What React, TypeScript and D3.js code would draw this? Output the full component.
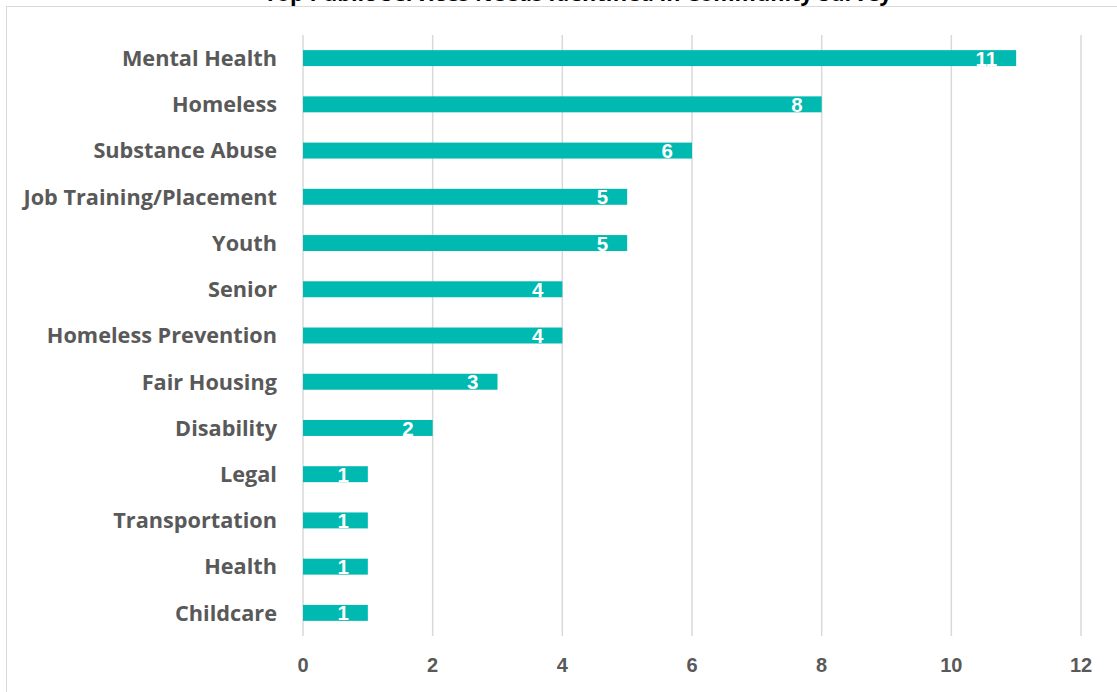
import React from "react";
import * as d3 from "d3";

const categories = [
  "Mental Health",
  "Homeless",
  "Substance Abuse",
  "Job Training/Placement",
  "Youth",
  "Senior",
  "Homeless Prevention",
  "Fair Housing",
  "Disability",
  "Legal",
  "Transportation",
  "Health",
  "Childcare",
];
const values = [11, 8, 6, 5, 5, 4, 4, 3, 2, 1, 1, 1, 1];
const xTicks = [0, 2, 4, 6, 8, 10, 12];
const title = "Top Public Services Needs Identified in Community Survey";

const W = 1117;
const H = 692;
const FONT = "'Liberation Sans', Arial, sans-serif";
const LABEL_FONT = "'Open Sans', 'Noto Sans', sans-serif";

export default function App() {
  const x = d3.scaleLinear().domain([0, 12]).range([303, 1081]);
  const y = d3.scaleBand<string>().domain(categories).range([35, 636]).paddingInner(0.655).paddingOuter(0.3275);
  const gridTop = 35;
  const gridBottom = 636;
  return (
    <svg
      width={W}
      height={H}
      style={{ position: "absolute", left: 0, top: 0, background: "#fff" }}
      fontFamily={FONT}
    >
      <rect x={6.5} y={6.5} width={W + 20} height={H + 20} fill="#fff" stroke="#d9d9d9" strokeWidth={1} />
      <text x={578} y={1} textAnchor="middle" fontSize={21.7} fontWeight="bold" fill="#000" fontFamily={LABEL_FONT}>
        {title}
      </text>
      {xTicks.map((t) => (
        <line key={"g" + t} x1={x(t)} x2={x(t)} y1={gridTop} y2={gridBottom} stroke="#d9d9d9" strokeWidth={1.5} />
      ))}
      {categories.map((c, i) => {
        const y0 = y(c) as number;
        const bw = y.bandwidth();
        return (
          <g key={c}>
            <rect x={x(0)} y={y0} width={x(values[i]) - x(0)} height={bw} fill="#00B9B1" />
            <text
              x={x(values[i]) - 19}
              y={y0 + bw / 2}
              dy="0.37em"
              textAnchor="end"
              fontSize={20.5}
              fontWeight="bold"
              fill="#fff"
            >
              {values[i]}
            </text>
            <text
              x={277}
              y={y0 + bw / 2}
              dy="0.36em"
              textAnchor="end"
              fontSize={21.7}
              fontWeight="bold"
              fill="#595959"
              fontFamily={LABEL_FONT}
            >
              {c}
            </text>
          </g>
        );
      })}
      {xTicks.map((t) => (
        <text key={"t" + t} x={x(t)} y={665} dy="0.36em" textAnchor="middle" fontSize={20} fontWeight="bold" fill="#595959">
          {t}
        </text>
      ))}
    </svg>
  );
}
